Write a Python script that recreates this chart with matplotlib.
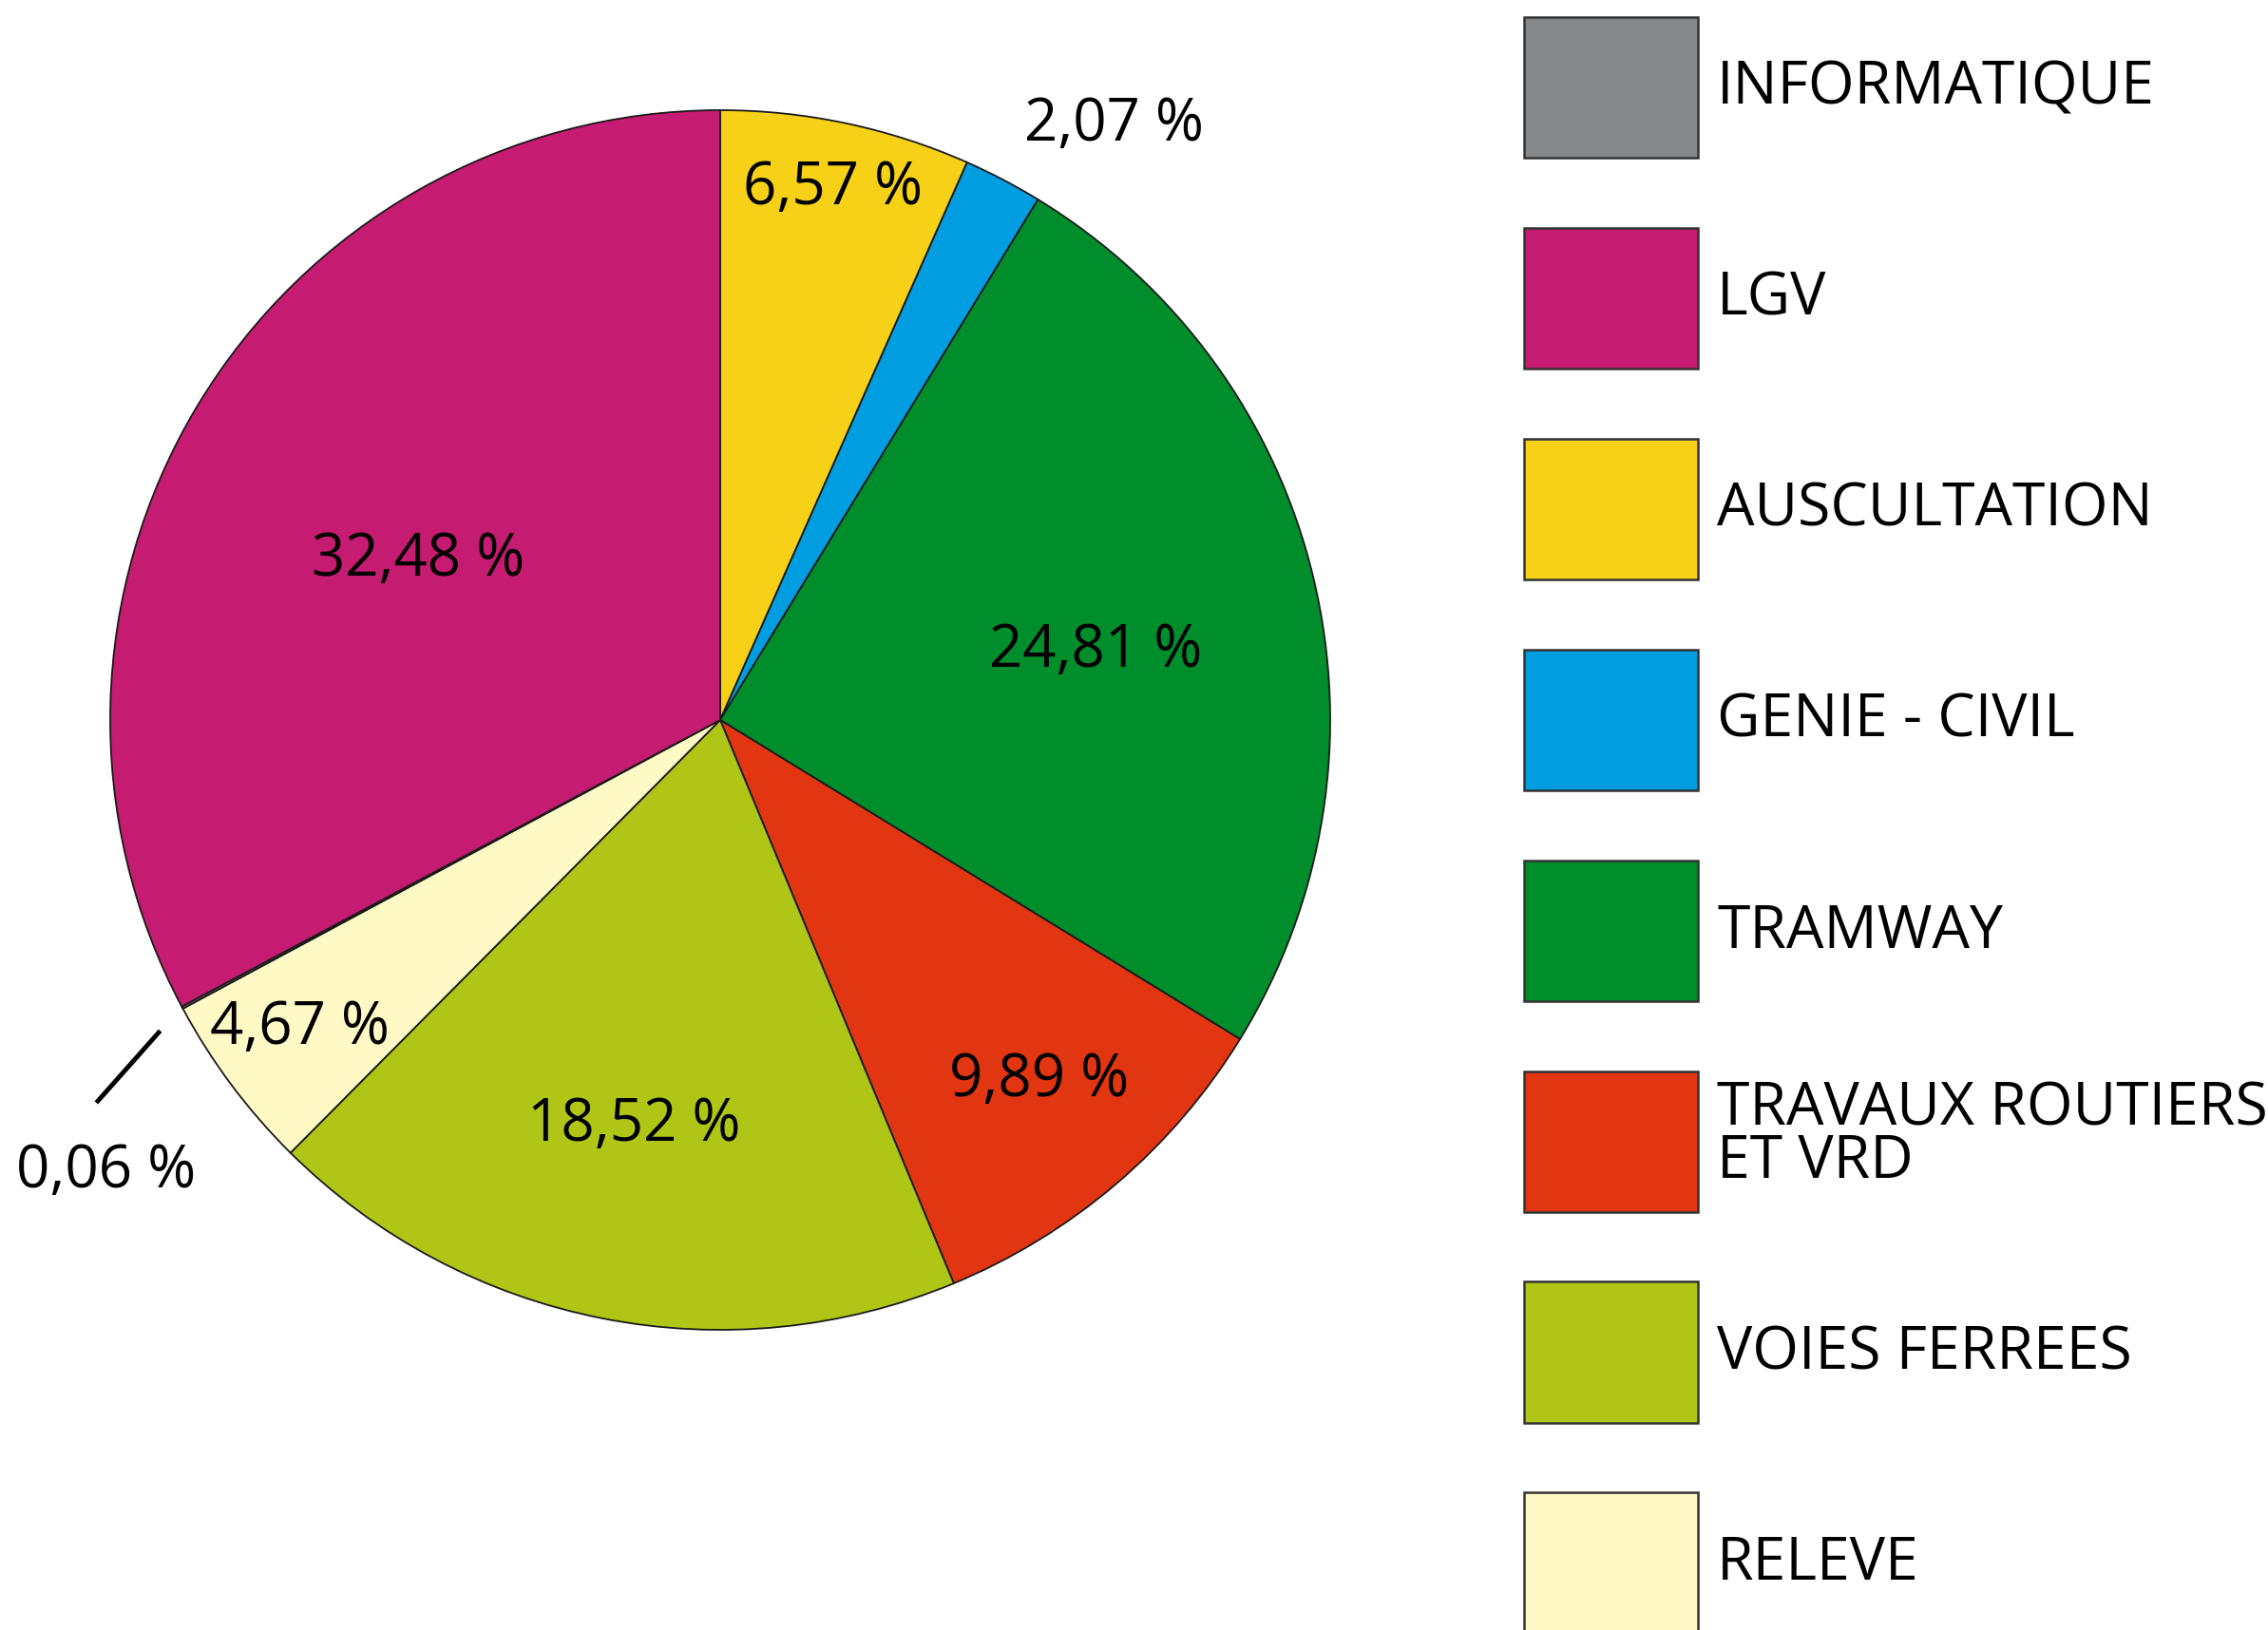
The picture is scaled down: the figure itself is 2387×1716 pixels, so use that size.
import numpy as np
import matplotlib
matplotlib.use("Agg")
import matplotlib.pyplot as plt
from matplotlib.patches import Rectangle

plt.rcParams['font.family'] = ['Open Sans', 'DejaVu Sans']

# ---- data (pie order, clockwise from top) ----
categories = ["AUSCULTATION", "GENIE - CIVIL", "TRAMWAY", "TRAVAUX ROUTIERS\nET VRD",
              "VOIES FERREES", "RELEVE", "INFORMATIQUE", "LGV"]
values = [6.57, 2.07, 24.81, 9.89, 18.52, 4.67, 0.06, 32.48]
colors = ["#f6d117", "#009de0", "#008d2b", "#e23512", "#b0c616", "#fff9c6", "#86878b", "#c51b71"]
legend_order = ["INFORMATIQUE", "LGV", "AUSCULTATION", "GENIE - CIVIL", "TRAMWAY",
                "TRAVAUX ROUTIERS\nET VRD", "VOIES FERREES", "RELEVE"]

# ---- label layout (radial factor, angular offset in degrees) ----
label_layout = [(0.89, 0.0), (1.17, -5.9), (0.625, -3.2), (0.79, 1.0),
                (0.68, -0.8), (0.855, -0.4), (1.25, 8.2), (0.56, 3.0)]

W, H = 2387, 1716
fig = plt.figure(figsize=(W / 100, H / 100), dpi=100)
ax = fig.add_axes([0, 0, 1, 1])

cx, cy, R = 758, 958, 642
wedges, _ = ax.pie(values, colors=colors, startangle=90, counterclock=False,
                   center=(cx, cy), radius=R, frame=True,
                   wedgeprops=dict(edgecolor="#1a1a1a", linewidth=1.3))
ax.set_xlim(0, W)
ax.set_ylim(0, H)
ax.axis('off')

fs_lab = 44.5
for w, v, (rf, off) in zip(wedges, values, label_layout):
    mid = np.deg2rad((w.theta1 + w.theta2) / 2 + off)
    x = cx + rf * R * np.cos(mid)
    y = cy + rf * R * np.sin(mid)
    txt = f"{v:.2f}".replace('.', ',') + " %"
    ax.text(x, y, txt, ha='center', va='center', fontsize=fs_lab, color='black')

# leader line for the tiny INFORMATIQUE slice
wi = wedges[categories.index("INFORMATIQUE")]
m = (wi.theta1 + wi.theta2) / 2
p1 = (1.05, m + 0.9)
p2 = (1.20, m + 3.4)
xs = [cx + r * R * np.cos(np.deg2rad(a)) for r, a in (p1, p2)]
ys = [cy + r * R * np.sin(np.deg2rad(a)) for r, a in (p1, p2)]
ax.plot(xs, ys, color='black', lw=3.5, solid_capstyle='butt')

# legend
fs = 45
handles = []
for name in legend_order:
    i = categories.index(name)
    handles.append(Rectangle((0, 0), 1, 1, facecolor=colors[i], edgecolor="#333333", linewidth=1.8))
leg = fig.legend(handles, legend_order, loc='upper left',
                 bbox_to_anchor=(1604 / W, 1 - 18 / H), bbox_transform=fig.transFigure,
                 frameon=False, fontsize=fs, handlelength=2.92, handleheight=3.27,
                 labelspacing=1.18, handletextpad=0.33, borderpad=0, borderaxespad=0)
for t in leg.get_texts():
    t.set_linespacing(0.85)

fig.savefig("out.png", dpi=100)
